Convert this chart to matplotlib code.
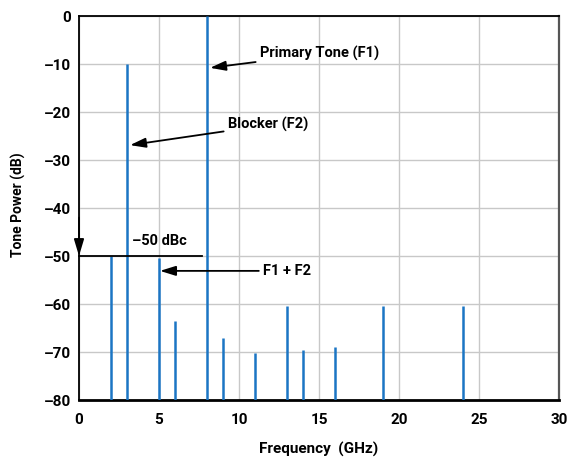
import matplotlib
matplotlib.use("Agg")
import matplotlib.pyplot as plt

# Tone spectrum: frequency (GHz) and level (dB)
freqs = [2, 3, 5, 6, 8, 9, 11, 13, 14, 16, 19, 24]
levels = [-50, -10, -50.5, -63.5, 0, -67, -70.2, -60.5, -69.5, -69, -60.5, -60.5]

x_ticks = [0, 5, 10, 15, 20, 25, 30]
y_ticks = [0, -10, -20, -30, -40, -50, -60, -70, -80]

plt.rcParams['font.family'] = ['Roboto', 'DejaVu Sans']
plt.rcParams['font.weight'] = 'bold'

W, H = 568, 458
fig = plt.figure(figsize=(W / 100, H / 100), dpi=100)
ax = fig.add_axes([79 / W, 1 - 400 / H, 480 / W, 384 / H])

bar_color = '#1b75c4'
ax.vlines(freqs, -80, levels, colors=bar_color, linewidth=1.8, zorder=3)

ax.set_xlim(0, 30)
ax.set_ylim(-80, 0)
ax.set_xticks(x_ticks)
ax.set_yticks(y_ticks)
ax.set_xticklabels([str(t) for t in x_ticks], fontsize=11, fontweight='bold')
ax.set_yticklabels([f"\u2013{abs(t)}" if t < 0 else str(t) for t in y_ticks],
                   fontsize=11, fontweight='bold')
ax.tick_params(axis='x', length=0, pad=9)
ax.tick_params(axis='y', length=0, pad=6)
ax.grid(True, color='#c8c8c8', linewidth=1.0, zorder=0)
ax.set_axisbelow(True)

for side in ['top', 'left']:
    ax.spines[side].set_linewidth(1.3)
    ax.spines[side].set_color('black')
ax.spines['bottom'].set_linewidth(2.0)
ax.spines['bottom'].set_color('black')
ax.spines['right'].set_linewidth(1.6)
ax.spines['right'].set_color('#555555')

# Axis titles
fig.text(319 / W, 1 - 449 / H, 'Frequency  (GHz)', fontsize=11, fontweight='bold',
         ha='center', va='center')
fig.text(18 / W, 1 - 205 / H, 'Tone Power (dB)', fontsize=10, fontweight='bold',
         ha='center', va='center', rotation=90)

arrow = dict(arrowstyle='-|>,head_length=0.9,head_width=0.28', color='black',
             lw=1.3, shrinkA=1, shrinkB=0)

ax.annotate('Primary Tone (F1)', xy=(8.19, -10.8), xytext=(11.3, -7.9),
            fontsize=10.5, fontweight='bold', va='center', ha='left',
            arrowprops=arrow, zorder=5)
ax.annotate('Blocker (F2)', xy=(3.19, -26.9), xytext=(9.3, -22.7),
            fontsize=10.5, fontweight='bold', va='center', ha='left',
            arrowprops=arrow, zorder=5)
ax.annotate('F1 + F2', xy=(5.06, -53.1), xytext=(11.5, -53.1),
            fontsize=10.5, fontweight='bold', va='center', ha='left',
            arrowprops=arrow, zorder=5)

# -50 dBc reference level
ax.plot([0, 7.67], [-50, -50], color='black', lw=1.3, zorder=4, clip_on=False)
ax.annotate('', xy=(0, -50), xytext=(0, -42),
            arrowprops=dict(arrowstyle='-|>,head_length=1.0,head_width=0.3',
                            color='black', lw=1.3, shrinkA=0, shrinkB=0),
            annotation_clip=False, zorder=5)
ax.text(5.0, -46.9, '\u201350 dBc', fontsize=10.5, fontweight='bold',
        ha='center', va='center', zorder=5)

fig.savefig('out.png', dpi=100)
